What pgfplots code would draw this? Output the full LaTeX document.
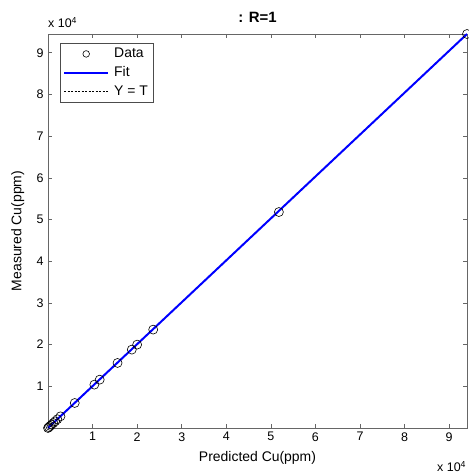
\documentclass[border=0pt]{standalone}
\usepackage{fontspec}
\setmainfont{Liberation Sans}
\usepackage{pgfplots}
\pgfplotsset{compat=1.18}
\begin{document}
\fontsize{12.5}{15}\selectfont
\begin{tikzpicture}[x=1bp,y=1bp]
\begin{axis}[
  scale only axis,
  width=419bp, height=394bp,
  xmin=0, xmax=94000, ymin=0, ymax=94500,
  xtick={10000,20000,...,90000},
  ytick={10000,20000,...,90000},
  scaled x ticks=base 10:-4,
  scaled y ticks=base 10:-4,
  xtick scale label code/.code={x 10\textsuperscript{#1}},
  ytick scale label code/.code={x 10\textsuperscript{#1}},
  every x tick scale label/.style={at={(rel axis cs:1,0)},anchor=north west,xshift=-30bp,yshift=-33bp,inner sep=0pt},
  every y tick scale label/.style={at={(rel axis cs:0,1)},anchor=south west,yshift=6bp,inner sep=0pt},
  /pgf/number format/assume math mode=true,
  tick align=inside,
  major tick length=4bp,
  axis line style={draw=black!60, line width=0.8pt},
  tick style={draw=black!60, line width=0.6pt},
  ticklabel style={font=\fontsize{12.5}{15}\selectfont},
  xlabel={Predicted Cu(ppm)},
  ylabel={Measured Cu(ppm)},
  xlabel style={font=\fontsize{14}{16}\selectfont, yshift=-2bp},
  ylabel style={font=\fontsize{14}{16}\selectfont, yshift=4bp},
  title={\textbf{: R=1}},
  title style={font=\fontsize{15}{17}\selectfont, yshift=1bp},
  legend style={at={(0,1)}, anchor=north west, xshift=12bp, yshift=-9bp,
    draw=black!70, font=\fontsize{14}{16}\selectfont, row sep=3bp,
    inner xsep=3bp, inner ysep=3bp,
    legend cell align=left,
    /tikz/every odd column/.append style={column sep=3bp}},
  clip=false,
]
\addplot[only marks, mark=o, mark size=4.5bp, draw=black, line width=0.6pt, forget plot] coordinates {
 (0,0) (200,200) (500,500) (800,800) (1200,1200) (1600,1600) (2100,2100) (2800,2800)
 (6000,6000) (10400,10400) (11600,11600) (15600,15600) (18800,18800) (20000,20000)
 (23600,23600) (51800,51800) (94000,94500)
};
\addplot[blue, line width=2bp, forget plot] coordinates {(0,0) (94000,94500)};
\addlegendimage{legend image code/.code={\draw[black, line width=0.6pt] (22bp,0) circle (3.3bp);\path[draw=none] (0,0) -- (44bp,0);}}
\addlegendentry{Data}
\addlegendimage{legend image code/.code={\draw[blue, line width=2bp] (0,0) -- (44bp,0);}}
\addlegendentry{Fit}
\addlegendimage{legend image code/.code={\draw[black, dash pattern=on 2bp off 1.5bp, line width=0.5pt] (0,0) -- (44bp,0);}}
\addlegendentry{Y = T}
\end{axis}
\pgfresetboundingbox
\useasboundingbox ([xshift=-48bp,yshift=-44bp]current axis.south west) rectangle ([xshift=2bp,yshift=34bp]current axis.north east);
\end{tikzpicture}
\end{document}
